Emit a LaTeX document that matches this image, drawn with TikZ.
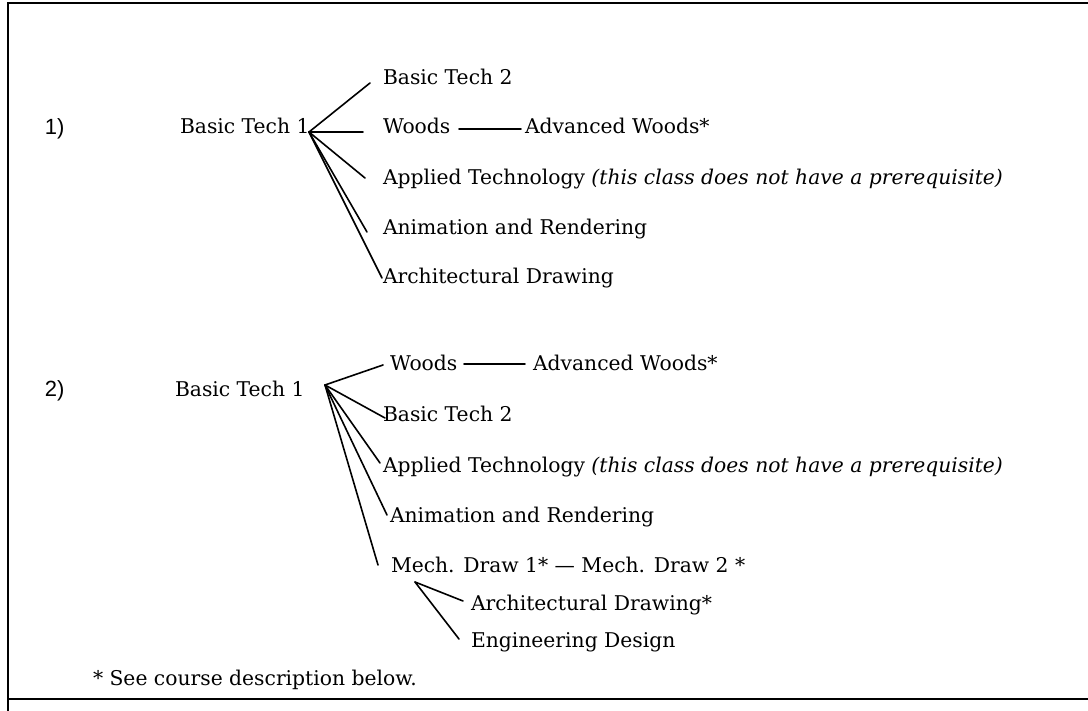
\documentclass[tikz,border=0pt]{standalone}
\usepackage{fontspec}
\setmainfont{DejaVu Serif}
\newfontfamily\numfont{Liberation Sans}
\begin{document}
\begin{tikzpicture}[x=1pt,y=-1pt,
  txt/.style={anchor=base west,inner sep=0pt,outer sep=0pt,font=\fontsize{20.3}{24}\selectfont},
  num/.style={anchor=base west,inner sep=0pt,outer sep=0pt,font=\numfont\fontsize{22}{26}\selectfont},
  conn/.style={line width=1.6pt,line cap=round},
  frame/.style={line width=2.2pt}]
\useasboundingbox (0,0) rectangle (1088,711);
% frame
\coordinate (ftl) at (8,3);
\coordinate (ftr) at (1088,3);
\coordinate (fbl) at (8,711);
\coordinate (fml) at (8,699);
\coordinate (fmr) at (1088,699);
\draw[frame] (ftr) -- (ftl) -- (fbl);
\draw[frame] (fml) -- (fmr);

% ---------- section 1 ----------
\node[num] (n1) at (45,135) {1)};
\node[txt] (a0) at (180,134) {Basic Tech 1};
\node[txt] (a1) at (383,85) {Basic Tech 2};
\node[txt] (a2) at (383,134) {Woods};
\node[txt] (a2b) at (525,134) {Advanced Woods*};
\node[txt] (a3) at (383,185) {Applied Technology \textit{(this class does not have a prerequisite)}};
\node[txt] (a4) at (383,235) {Animation and Rendering};
\node[txt] (a5) at (383,284) {Architectural Drawing};
\coordinate (h1) at (309,132);
\coordinate (e11) at (370,83);
\coordinate (e12) at (363,132);
\coordinate (e13) at (365,178);
\coordinate (e14) at (367,232);
\coordinate (e15) at (382,278);
\coordinate (w1s) at (459,129);
\coordinate (w1e) at (521,129);
\draw[conn] (h1) -- (e11);
\draw[conn] (h1) -- (e12);
\draw[conn] (h1) -- (e13);
\draw[conn] (h1) -- (e14);
\draw[conn] (h1) -- (e15);
\draw[conn] (w1s) -- (w1e);

% ---------- section 2 ----------
\node[num] (n2) at (45,397) {2)};
\node[txt] (b0) at (175,397) {Basic Tech 1};
\node[txt] (b1) at (390,371) {Woods};
\node[txt] (b1b) at (533,371) {Advanced Woods*};
\node[txt] (b2) at (383,421) {Basic Tech 2};
\node[txt] (b3) at (383,472) {Applied Technology \textit{(this class does not have a prerequisite)}};
\node[txt] (b4) at (390,522) {Animation and Rendering};
\node[txt] (b5) at (391,572) {Mech. Draw 1* — Mech. Draw 2 *};
\node[txt] (b6) at (471,610) {Architectural Drawing*};
\node[txt] (b7) at (471,647) {Engineering Design};
\coordinate (h2) at (325,385);
\coordinate (e21) at (383,365);
\coordinate (e22) at (385,418);
\coordinate (e23) at (380,463);
\coordinate (e24) at (387,515);
\coordinate (e25) at (378,565);
\coordinate (w2s) at (464,364);
\coordinate (w2e) at (525,364);
\coordinate (h3) at (415,582);
\coordinate (e31) at (463,601);
\coordinate (e32) at (459,639);
\draw[conn] (h2) -- (e21);
\draw[conn] (h2) -- (e22);
\draw[conn] (h2) -- (e23);
\draw[conn] (h2) -- (e24);
\draw[conn] (h2) -- (e25);
\draw[conn] (w2s) -- (w2e);
\draw[conn] (h3) -- (e31);
\draw[conn] (h3) -- (e32);

\node[txt] (fn) at (93,685) {* See course description below.};
\end{tikzpicture}
\end{document}
